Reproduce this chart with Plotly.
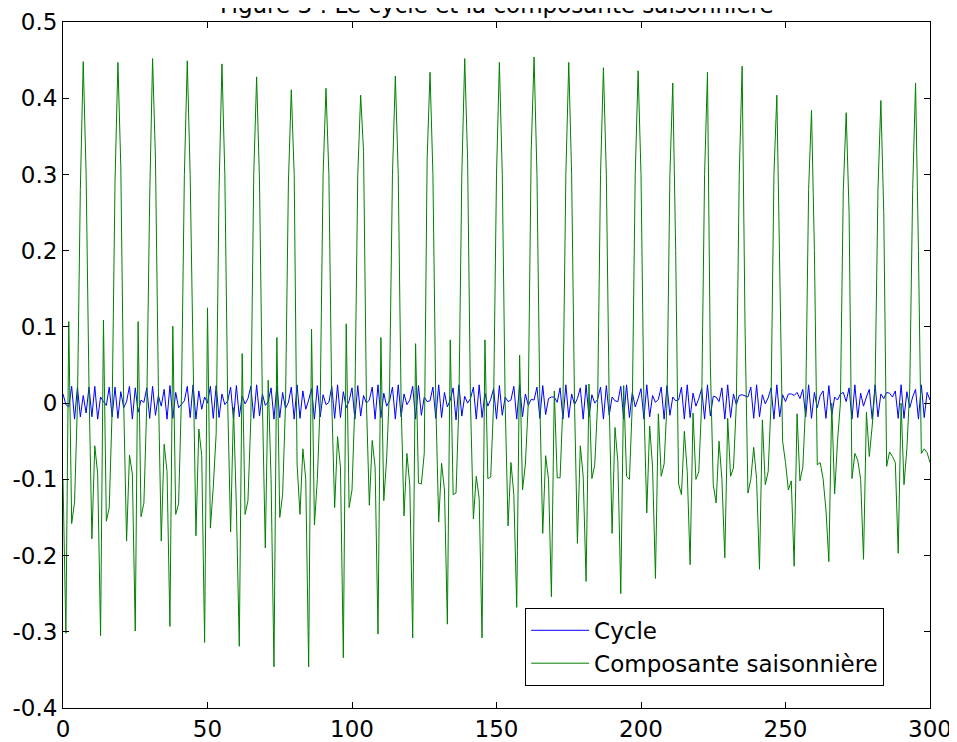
import plotly.graph_objects as go

# ---- data ----
# x runs 0..300
x_vals = list(range(0, 301))

# green: seasonal component. First value (x=0), then one row per 12-step cycle
# (offsets: trough, spike, a, b, rise1, rise2, peak, fall1, fall2, c, e, f)
green_start = [-0.100]
green_cycles = [
    [-0.302, 0.107, -0.158, -0.130, 0.000, 0.280, 0.448, 0.300, 0.020, -0.178, -0.056, -0.093],
    [-0.305, 0.109, -0.155, -0.137, -0.010, 0.290, 0.447, 0.310, 0.000, -0.181, -0.068, -0.093],
    [-0.299, 0.107, -0.149, -0.131, 0.000, 0.270, 0.452, 0.320, 0.020, -0.181, -0.054, -0.090],
    [-0.293, 0.101, -0.146, -0.132, 0.010, 0.300, 0.449, 0.300, 0.030, -0.174, -0.034, -0.069],
    [-0.314, 0.125, -0.164, -0.110, -0.040, 0.280, 0.445, 0.300, 0.000, -0.169, -0.006, -0.137],
    [-0.319, 0.065, -0.146, -0.128, -0.020, 0.300, 0.428, 0.290, 0.000, -0.190, 0.030, -0.100],
    [-0.346, 0.086, -0.150, -0.120, 0.000, 0.290, 0.411, 0.300, -0.080, -0.146, -0.060, -0.100],
    [-0.346, 0.097, -0.160, -0.100, 0.000, 0.300, 0.413, 0.300, 0.000, -0.137, -0.044, -0.084],
    [-0.334, 0.104, -0.137, -0.114, 0.000, 0.300, 0.404, 0.330, 0.000, -0.134, -0.049, -0.084],
    [-0.303, 0.086, -0.128, -0.072, 0.020, 0.300, 0.429, 0.300, 0.000, -0.148, -0.066, -0.108],
    [-0.308, 0.078, -0.105, -0.106, -0.066, 0.320, 0.434, 0.300, 0.000, -0.156, -0.079, -0.114],
    [-0.290, 0.083, -0.120, -0.118, 0.000, 0.300, 0.452, 0.320, 0.000, -0.152, -0.096, -0.125],
    [-0.308, 0.083, -0.099, -0.097, 0.000, 0.300, 0.447, 0.300, 0.000, -0.161, -0.078, -0.120],
    [-0.268, 0.063, -0.114, -0.080, 0.000, 0.330, 0.454, 0.300, 0.000, -0.171, -0.069, -0.100],
    [-0.254, 0.016, -0.098, -0.098, 0.000, 0.300, 0.447, 0.300, 0.000, -0.184, -0.056, -0.096],
    [-0.234, 0.025, -0.099, -0.081, 0.000, 0.300, 0.440, 0.300, 0.000, -0.171, -0.032, -0.078],
    [-0.250, 0.023, -0.096, -0.100, 0.000, 0.300, 0.436, 0.300, 0.000, -0.144, -0.030, -0.084],
    [-0.230, -0.014, -0.096, -0.080, 0.000, 0.300, 0.420, 0.200, -0.106, -0.120, -0.037, -0.090],
    [-0.212, -0.013, -0.100, -0.090, 0.000, 0.300, 0.434, 0.050, -0.107, -0.131, -0.050, -0.100],
    [-0.203, -0.020, -0.096, -0.085, 0.000, 0.300, 0.442, 0.100, -0.118, -0.100, -0.058, -0.100],
    [-0.218, -0.022, -0.107, -0.090, 0.000, 0.300, 0.404, 0.200, -0.050, -0.078, -0.114, -0.102],
    [-0.214, -0.014, -0.102, -0.084, 0.000, 0.280, 0.384, 0.200, -0.081, -0.078, -0.099, -0.140],
    [-0.208, 0.000, -0.119, -0.050, 0.000, 0.280, 0.381, 0.250, -0.099, -0.066, -0.075, -0.100],
    [-0.205, -0.012, -0.070, -0.030, 0.020, 0.280, 0.397, 0.250, -0.083, -0.064, -0.070, -0.078],
    [-0.197, 0.000, -0.107, -0.060, 0.020, 0.280, 0.420, 0.200, -0.066, -0.060, -0.065, -0.078],
]

# blue: cycle component (x = 0..300)
cycle_vals = [
    0.012, -0.002, -0.005, 0.022, -0.021, 0.021, -0.018, 0.010, -0.013, 0.021, -0.018, 0.022, -0.021, 0.008, 0.002, -0.003, 0.021, -0.018, 0.021, -0.020,
    0.015, -0.006, 0.002, 0.022, -0.021, 0.020, -0.012, 0.004, 0.001, 0.020, -0.020, 0.022, -0.016, 0.010, -0.004, 0.018, -0.021, 0.023, -0.020, 0.014,
    -0.006, -0.002, 0.003, 0.022, -0.019, 0.024, -0.021, 0.016, -0.008, 0.008, 0.000, 0.022, -0.020, 0.023, -0.019, 0.012, -0.002, 0.003, 0.021, -0.021,
    0.023, -0.018, 0.009, -0.001, 0.006, 0.022, -0.020, 0.024, -0.017, 0.012, -0.003, 0.002, 0.020, -0.021, 0.023, -0.019, 0.014, -0.007, 0.001, 0.021,
    -0.021, 0.024, -0.020, 0.016, -0.008, 0.004, 0.019, -0.021, 0.023, -0.018, 0.011, -0.002, 0.001, 0.022, -0.020, 0.024, -0.019, 0.015, -0.006, 0.003,
    0.020, -0.021, 0.023, -0.017, 0.010, 0.000, 0.004, 0.021, -0.021, 0.024, -0.019, 0.013, -0.004, 0.003, 0.021, -0.021, 0.024, -0.018, 0.012, -0.002,
    0.004, 0.022, -0.021, 0.023, -0.016, 0.008, 0.002, 0.003, 0.021, -0.020, 0.024, -0.019, 0.014, -0.005, 0.004, 0.020, -0.022, 0.024, -0.017, 0.009,
    0.000, 0.006, 0.021, -0.021, 0.024, -0.019, 0.013, -0.004, 0.005, 0.019, -0.021, 0.023, -0.016, 0.008, 0.002, 0.004, 0.022, -0.021, 0.024, -0.018,
    0.012, -0.003, 0.005, 0.004, 0.021, -0.020, 0.023, -0.015, 0.006, 0.008, 0.008, 0.001, 0.020, -0.021, 0.024, -0.019, 0.012, -0.002, 0.006, 0.020,
    -0.021, 0.024, -0.018, 0.011, 0.000, 0.005, 0.021, -0.021, 0.023, -0.016, 0.008, 0.003, 0.002, 0.022, -0.021, 0.024, -0.019, 0.014, -0.005, 0.006,
    0.019, -0.021, 0.024, -0.018, 0.010, 0.001, 0.005, 0.021, -0.021, 0.023, -0.016, 0.008, 0.003, 0.004, 0.021, -0.021, 0.024, -0.019, 0.013, -0.004,
    0.006, 0.019, -0.021, 0.024, -0.017, 0.009, 0.008, 0.002, 0.020, -0.021, 0.024, -0.019, 0.012, -0.002, 0.010, 0.011, 0.010, 0.008, 0.021, -0.020,
    0.024, -0.018, 0.011, -0.001, 0.007, 0.020, -0.021, 0.024, -0.018, 0.011, 0.002, 0.012, 0.012, 0.010, 0.014, 0.006, 0.018, -0.018, 0.024, -0.020,
    0.014, -0.006, 0.010, 0.016, -0.020, 0.023, -0.016, 0.008, 0.004, 0.012, 0.014, 0.002, 0.020, -0.021, 0.024, -0.019, 0.013, -0.004, 0.008, 0.018,
    -0.021, 0.024, -0.018, 0.012, 0.006, 0.014, 0.013, 0.008, 0.016, -0.020, 0.024, -0.020, 0.015, -0.006, 0.008, 0.018, -0.021, 0.024, -0.019, 0.014,
    0.004,
]

x_ticks = [0, 50, 100, 150, 200, 250, 300]
y_ticks = [-0.4, -0.3, -0.2, -0.1, 0, 0.1, 0.2, 0.3, 0.4, 0.5]
y_tick_text = ["-0.4", "-0.3", "-0.2", "-0.1", "0", "0.1", "0.2", "0.3", "0.4", "0.5"]

title_text = "Figure 3 : Le cycle et la composante saisonnière"
name_cycle = "Cycle"
name_season = "Composante saisonnière"

# assemble green series from the typed rows
green_vals = list(green_start)
for row in green_cycles:
    green_vals.extend(row)

FONT = "DejaVu Sans, Liberation Sans, Arial, sans-serif"
FS = 23

fig = go.Figure()
fig.add_trace(go.Scatter(x=x_vals, y=cycle_vals, mode="lines", name=name_cycle,
                         line=dict(color="#0000ff", width=1)))
fig.add_trace(go.Scatter(x=x_vals, y=green_vals, mode="lines", name=name_season,
                         line=dict(color="#008000", width=1)))

axis_common = dict(showline=True, linecolor="black", linewidth=1, mirror="ticks",
                   ticks="inside", ticklen=6, tickcolor="black", showgrid=False,
                   zeroline=False, automargin=False,
                   tickfont=dict(family=FONT, size=FS, color="black"))

fig.update_layout(
    width=949, height=734,
    paper_bgcolor="white", plot_bgcolor="white",
    margin=dict(l=55, r=27, t=14, b=34),
    xaxis=dict(range=[0, 300], tickvals=x_ticks, **axis_common),
    yaxis=dict(range=[-0.4, 0.5], tickvals=y_ticks, ticktext=y_tick_text, **axis_common),
    showlegend=True,
    legend=dict(x=0.533, y=0.146, xanchor="left", yanchor="top",
                bgcolor="white", bordercolor="black", borderwidth=1,
                itemwidth=58,
                font=dict(family=FONT, size=FS, color="black")),
    annotations=[dict(text=title_text, xref="paper", yref="paper", x=0.5, y=1.0022,
                      xanchor="center", yanchor="bottom", showarrow=False,
                      font=dict(family=FONT, size=FS, color="black"))],
)

fig.write_html("out.html")
